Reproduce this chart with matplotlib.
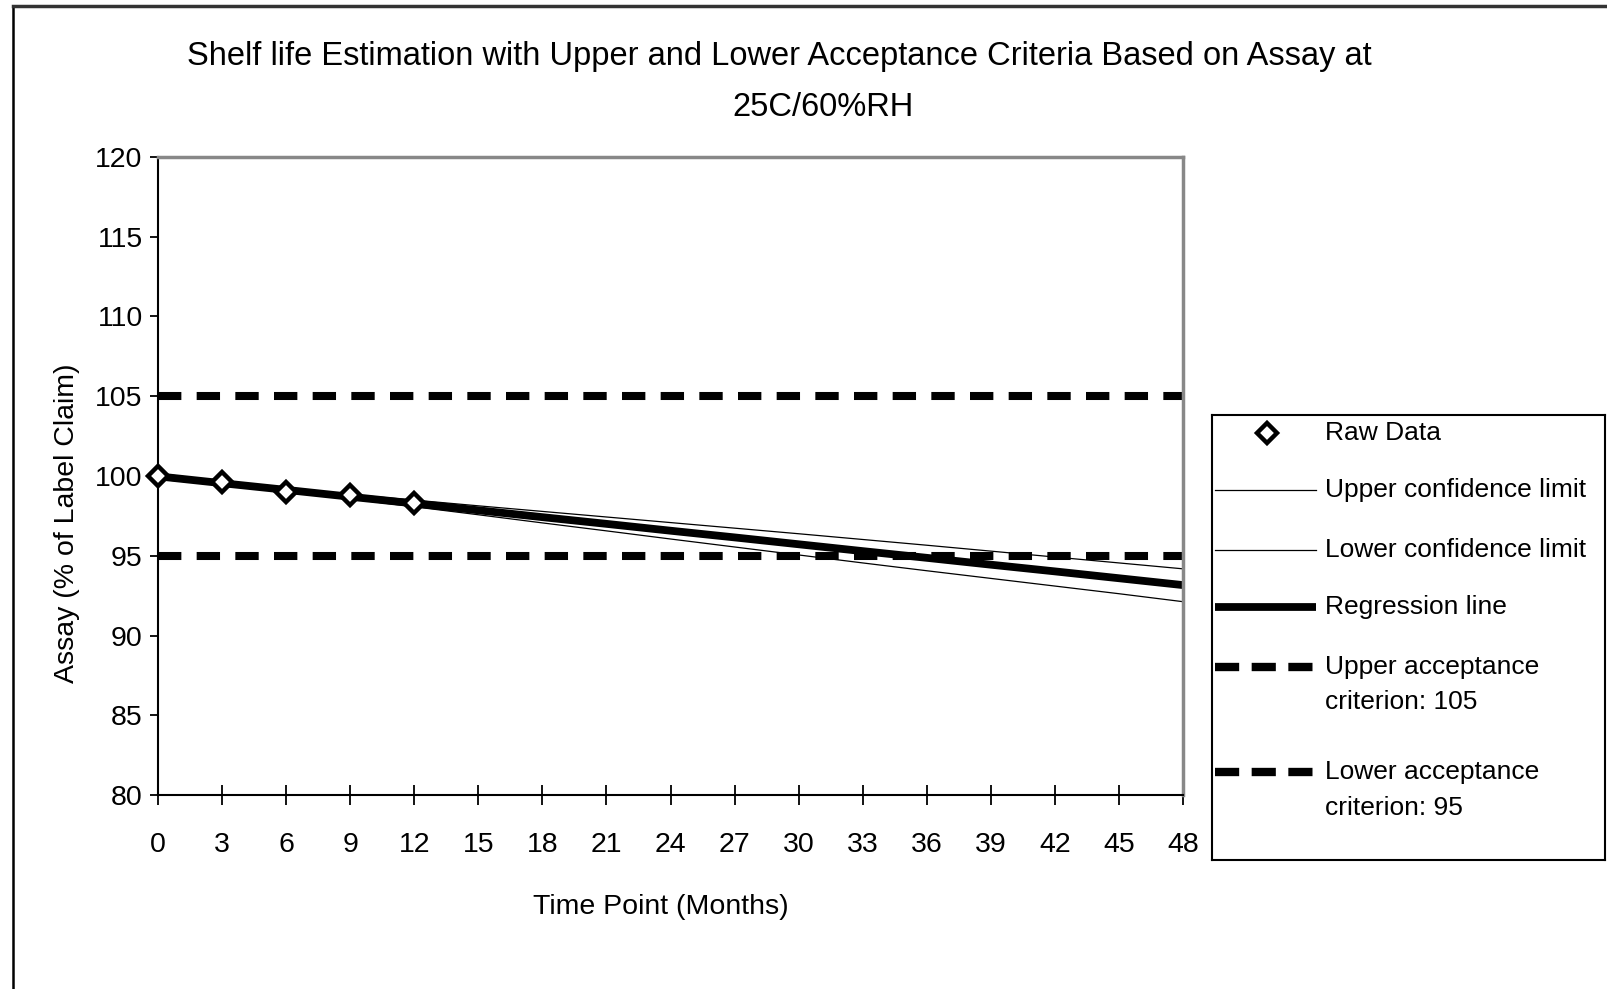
import matplotlib
matplotlib.use('Agg')
import matplotlib.pyplot as plt
from matplotlib.lines import Line2D

plt.rcParams['font.family'] = ['Liberation Sans', 'DejaVu Sans']

# stability data, assay in % of label claim
months = [0, 3, 6, 9, 12, 15, 18, 21, 24, 27, 30, 33, 36, 39, 42, 45, 48]
raw_months = [0, 3, 6, 9, 12]
raw_assay = [100.0, 99.6, 99.0, 98.8, 98.3]
regression = [99.98, 99.55, 99.13, 98.70, 98.28, 97.85, 97.42, 97.00, 96.57,
              96.15, 95.72, 95.29, 94.87, 94.44, 94.02, 93.59, 93.16]
upper_cl = [100.16, 99.67, 99.23, 98.84, 98.49, 98.13, 97.78, 97.43, 97.08,
            96.73, 96.38, 96.02, 95.66, 95.29, 94.92, 94.55, 94.18]
lower_cl = [99.80, 99.43, 99.03, 98.56, 98.07, 97.57, 97.06, 96.56, 96.05,
            95.55, 95.05, 94.55, 94.06, 93.58, 93.10, 92.62, 92.12]
upper_spec = 105
lower_spec = 95
yticks = [80, 85, 90, 95, 100, 105, 110, 115, 120]

W, H = 1607, 989
fig = plt.figure(figsize=(W / 100, H / 100), dpi=100)

# outer chart frame (only top and left edges show)
fig.add_artist(Line2D([13 / W, 13 / W], [0, 1 - 6 / H], transform=fig.transFigure,
                      color='black', lw=1.8))
fig.add_artist(Line2D([13 / W, 1], [1 - 6 / H, 1 - 6 / H], transform=fig.transFigure,
                      color='#333333', lw=2.5))

ax = fig.add_axes([158 / W, 1 - 795 / H, (1183 - 158) / W, (795 - 157) / H])

dash = (2.9, 1.9)
ax.plot([months[0], months[-1]], [upper_spec, upper_spec], color='black', lw=5.8,
        dashes=dash, solid_capstyle='butt', dash_capstyle='butt')
ax.plot([months[0], months[-1]], [lower_spec, lower_spec], color='black', lw=5.8,
        dashes=dash, solid_capstyle='butt', dash_capstyle='butt')
ax.plot(months, upper_cl, color='black', lw=0.9)
ax.plot(months, lower_cl, color='black', lw=0.9)
ax.plot(months, regression, color='black', lw=5.6, solid_capstyle='butt')
ax.plot(raw_months, raw_assay, ls='none', marker='D', ms=10, mfc='white',
        mec='black', mew=3.2, clip_on=False, zorder=5)

ax.set_xlim(0, 48)
ax.set_ylim(80, 120)
ax.set_xticks(months)
ax.set_yticks(yticks)
ax.tick_params(axis='x', direction='inout', length=14, width=1.3, pad=20,
               labelsize=20.5)
ax.tick_params(axis='y', direction='out', length=6, width=1.3, pad=5,
               labelsize=20.5)
for side in ['left', 'bottom']:
    ax.spines[side].set_linewidth(1.5)
    ax.spines[side].set_color('black')
for side in ['top', 'right']:
    ax.spines[side].set_linewidth(2.5)
    ax.spines[side].set_color('#888888')

fig.text(661 / W, 1 - 907 / H, 'Time Point (Months)', ha='center', va='center',
         fontsize=20.5)
fig.text(67 / W, 1 - 523 / H, 'Assay (% of Label Claim)', ha='center', va='center',
         rotation=90, fontsize=20.5)
fig.text(779 / W, 1 - 57 / H,
         'Shelf life Estimation with Upper and Lower Acceptance Criteria Based on Assay at',
         ha='center', va='center', fontsize=23.5)
fig.text(823 / W, 1 - 108 / H, '25C/60%RH', ha='center', va='center', fontsize=23.5)

# legend box, laid out in pixel units
lx0, ly0, lx1, ly1 = 1212, 415, 1605, 860
lax = fig.add_axes([lx0 / W, 1 - ly1 / H, (lx1 - lx0) / W, (ly1 - ly0) / H])
lax.set_xlim(0, lx1 - lx0)
lax.set_ylim(ly1 - ly0, 0)
lax.set_xticks([])
lax.set_yticks([])
for s in lax.spines.values():
    s.set_linewidth(1.5)
    s.set_color('black')

tx = 113
lax.plot([55], [18], ls='none', marker='D', ms=10, mfc='white', mec='black', mew=3.2)
lax.text(tx, 18, 'Raw Data', va='center', fontsize=19)
lax.plot([3, 104], [75, 75], color='black', lw=0.9)
lax.text(tx, 75, 'Upper confidence limit', va='center', fontsize=19)
lax.plot([3, 104], [135, 135], color='black', lw=0.9)
lax.text(tx, 135, 'Lower confidence limit', va='center', fontsize=19)
lax.plot([3, 104], [192, 192], color='black', lw=5.6, solid_capstyle='butt')
lax.text(tx, 192, 'Regression line', va='center', fontsize=19)
lax.plot([3, 104], [252, 252], color='black', lw=6, dashes=(2.9, 1.5))
lax.text(tx, 252, 'Upper acceptance', va='center', fontsize=19)
lax.text(tx, 287, 'criterion: 105', va='center', fontsize=19)
lax.plot([3, 104], [357, 357], color='black', lw=6, dashes=(2.9, 1.5))
lax.text(tx, 357, 'Lower acceptance', va='center', fontsize=19)
lax.text(tx, 393, 'criterion: 95', va='center', fontsize=19)

fig.savefig('out.png', dpi=100)
